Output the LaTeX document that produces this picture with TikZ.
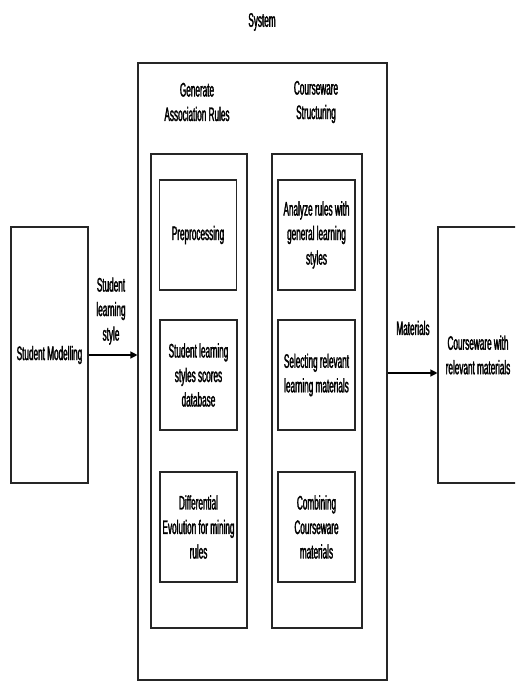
\documentclass[tikz,border=0pt]{standalone}
\usepackage{fontspec}
\setmainfont{Liberation Sans}[FakeStretch=0.42,FakeBold=1.6]
\usetikzlibrary{arrows.meta}
\tikzset{
  boxline/.style={draw=black!85, line width=1.1pt},
  txt/.style={align=center, font=\fontsize{19.5}{24.5}\selectfont, inner sep=0pt},
  procbox/.style={boxline, txt, minimum width=77pt, minimum height=110pt},
  conn/.style={draw=black, line width=1.2pt, -{Triangle[length=7pt,width=7pt]}}
}
\begin{document}
\begin{tikzpicture}[x=1pt,y=-1pt]
\clip (0,0) rectangle (515,682);
\fill[white] (0,0) rectangle (515,682);
% title
\node[txt] (title) at (262,22) {System};
% system box
\node[boxline, minimum width=249pt, minimum height=617pt, inner sep=0pt] (sys) at (262.5,371.5) {};
% headers
\node[txt] (h1) at (197,102) {Generate\\Association Rules};
\node[txt] (h2) at (316,102) {Courseware\\Structuring};
% columns
\node[boxline, minimum width=96pt, minimum height=474pt, inner sep=0pt] (col1) at (199,391) {};
\node[boxline, minimum width=90pt, minimum height=474pt, inner sep=0pt] (col2) at (317,391) {};
% left inner boxes
\node[procbox] (a1) at (198,235) {Preprocessing};
\node[procbox] (a2) at (198.5,375) {Student learning\\styles scores\\database};
\node[procbox] (a3) at (198.5,527) {Differential\\Evolution for mining\\rules};
% right inner boxes
\node[procbox] (b1) at (316.5,235) {Analyze rules with\\general learning\\styles};
\node[procbox] (b2) at (316.5,375) {Selecting relevant\\learning materials};
\node[procbox] (b3) at (316.5,527) {Combining\\Courseware\\materials};
% outer boxes
\node[boxline, txt, minimum width=77pt, minimum height=256pt] (sm) at (49.5,355) {Student Modelling};
\node[boxline, txt, minimum width=80pt, minimum height=256pt] (cw) at (478,355) {Courseware with\\relevant materials};
% connectors
\draw[conn] (sm.east) -- (sm.east -| sys.west);
\draw[conn] (sys.east |- 0,373) -- (cw.west |- 0,373);
% labels
\node[txt] (l1) at (111,311) {Student\\learning\\style};
\node[txt] (l2) at (413,328) {Materials};
\end{tikzpicture}
\end{document}
